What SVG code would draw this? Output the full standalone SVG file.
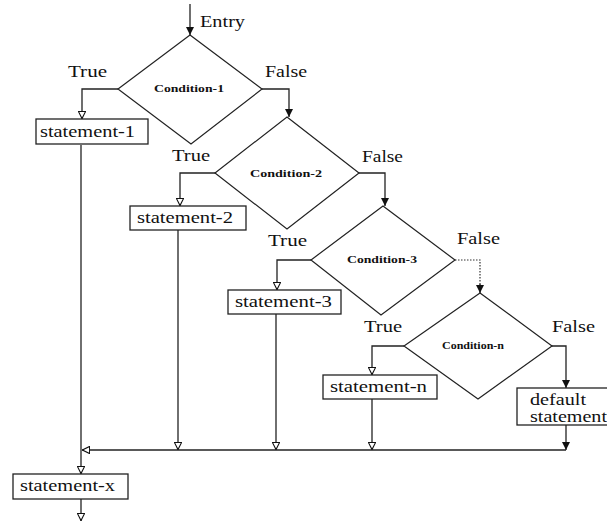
<svg xmlns="http://www.w3.org/2000/svg" width="607" height="522" viewBox="0 0 607 522">
<style>
  .ln { fill: none; stroke: #222; stroke-width: 1.3; }
  .dot { fill: none; stroke: #333; stroke-width: 1.2; stroke-dasharray: 1.5 1.5; }
  .box { fill: #fff; stroke: #222; stroke-width: 1.3; }
  .dia { fill: #fff; stroke: #222; stroke-width: 1.2; }
  .lbl { font-family: "Liberation Serif", "Times New Roman", serif; font-size: 16px; fill: #111; }
  .st { font-family: "Liberation Serif", "Times New Roman", serif; font-size: 16px; fill: #111; }
  .cond { font-family: "Liberation Serif", "Times New Roman", serif; font-size: 11px; font-weight: bold; fill: #111; }
</style>
<defs>
  <marker id="solid" viewBox="0 0 10 10" refX="10" refY="5" markerWidth="8" markerHeight="8" markerUnits="userSpaceOnUse" orient="auto">
    <path d="M0,0 L10,5 L0,10 Z" fill="#111"/>
  </marker>
  <marker id="open" viewBox="0 0 10 10" refX="10" refY="5" markerWidth="8" markerHeight="8" markerUnits="userSpaceOnUse" orient="auto">
    <path d="M0.5,0.5 L9.5,5 L0.5,9.5 Z" fill="#fff" stroke="#111" stroke-width="1.4"/>
  </marker>
</defs>
<rect width="607" height="522" fill="#fff"/>

<g id="connectors">
  <!-- entry -->
  <line class="ln" x1="190" y1="4" x2="190" y2="35" marker-end="url(#solid)"/>
  <!-- condition-1 -->
  <polyline class="ln" points="118,89 82,89 82,119" marker-end="url(#open)"/>
  <polyline class="ln" points="262,89 289,89 289,117" marker-end="url(#solid)"/>
  <!-- condition-2 -->
  <polyline class="ln" points="215,173 180,173 180,206" marker-end="url(#open)"/>
  <polyline class="ln" points="359,173 385,173 385,206" marker-end="url(#solid)"/>
  <!-- condition-3 -->
  <polyline class="ln" points="311,260 277,260 277,290" marker-end="url(#open)"/>
  <polyline class="dot" points="455,260 480,260 480,292"/>
  <line class="ln" x1="480" y1="284" x2="480" y2="293" marker-end="url(#solid)"/>
  <!-- condition-n -->
  <polyline class="ln" points="404,346 372,346 372,375" marker-end="url(#open)"/>
  <polyline class="ln" points="552,346 566,346 566,388" marker-end="url(#solid)"/>
  <!-- down to merge line -->
  <line class="ln" x1="81" y1="145" x2="81" y2="474" marker-end="url(#open)"/>
  <line class="ln" x1="178" y1="230" x2="178" y2="450" marker-end="url(#open)"/>
  <line class="ln" x1="276" y1="314" x2="276" y2="450" marker-end="url(#open)"/>
  <line class="ln" x1="372" y1="399" x2="372" y2="450" marker-end="url(#open)"/>
  <line class="ln" x1="566" y1="425" x2="566" y2="450" marker-end="url(#solid)"/>
  <line class="ln" x1="566" y1="450" x2="82" y2="450" marker-end="url(#open)"/>
  <!-- exit -->
  <line class="ln" x1="81" y1="499" x2="81" y2="521" marker-end="url(#open)"/>
</g>

<g id="entry-label">
  <text class="lbl" x="200" y="27" textLength="45" lengthAdjust="spacingAndGlyphs">Entry</text>
</g>

<g id="condition-1">
  <polygon class="dia" points="190,35 262,89 191,144 118,89"/>
  <text class="cond" x="189" y="92" text-anchor="middle" textLength="70" lengthAdjust="spacingAndGlyphs">Condition-1</text>
  <text class="lbl" x="68" y="77" textLength="39" lengthAdjust="spacingAndGlyphs">True</text>
  <text class="lbl" x="265" y="77" textLength="42" lengthAdjust="spacingAndGlyphs">False</text>
</g>

<g id="statement-1">
  <rect class="box" x="36" y="119" width="112" height="25"/>
  <text class="st" x="40" y="137" textLength="95" lengthAdjust="spacingAndGlyphs">statement-1</text>
</g>

<g id="condition-2">
  <polygon class="dia" points="287,117 359,173 287,229 215,173"/>
  <text class="cond" x="286" y="177" text-anchor="middle" textLength="72" lengthAdjust="spacingAndGlyphs">Condition-2</text>
  <text class="lbl" x="172" y="161" textLength="38" lengthAdjust="spacingAndGlyphs">True</text>
  <text class="lbl" x="362" y="162" textLength="41" lengthAdjust="spacingAndGlyphs">False</text>
</g>

<g id="statement-2">
  <rect class="box" x="130" y="206" width="116" height="24"/>
  <text class="st" x="137" y="223" textLength="96" lengthAdjust="spacingAndGlyphs">statement-2</text>
</g>

<g id="condition-3">
  <polygon class="dia" points="383,206 455,260 381,315 311,260"/>
  <text class="cond" x="382" y="263" text-anchor="middle" textLength="70" lengthAdjust="spacingAndGlyphs">Condition-3</text>
  <text class="lbl" x="268" y="246" textLength="39" lengthAdjust="spacingAndGlyphs">True</text>
  <text class="lbl" x="457" y="244" textLength="43" lengthAdjust="spacingAndGlyphs">False</text>
</g>

<g id="statement-3">
  <rect class="box" x="228" y="290" width="113" height="24"/>
  <text class="st" x="235" y="307" textLength="97" lengthAdjust="spacingAndGlyphs">statement-3</text>
</g>

<g id="condition-n">
  <polygon class="dia" points="480,293 552,346 478,399 404,346"/>
  <text class="cond" x="473" y="349" text-anchor="middle" textLength="62" lengthAdjust="spacingAndGlyphs">Condition-n</text>
  <text class="lbl" x="364" y="332" textLength="38" lengthAdjust="spacingAndGlyphs">True</text>
  <text class="lbl" x="552" y="332" textLength="43" lengthAdjust="spacingAndGlyphs">False</text>
</g>

<g id="statement-n">
  <rect class="box" x="323" y="375" width="114" height="24"/>
  <text class="st" x="330" y="392" textLength="97" lengthAdjust="spacingAndGlyphs">statement-n</text>
</g>

<g id="default-statement">
  <rect class="box" x="517" y="388" width="95" height="37"/>
  <text class="st" x="530" y="405" textLength="56" lengthAdjust="spacingAndGlyphs">default</text>
  <text class="st" x="530" y="422" textLength="77" lengthAdjust="spacingAndGlyphs">statement</text>
</g>

<g id="statement-x">
  <rect class="box" x="13" y="474" width="115" height="25"/>
  <text class="st" x="20" y="491" textLength="95" lengthAdjust="spacingAndGlyphs">statement-x</text>
</g>
</svg>
